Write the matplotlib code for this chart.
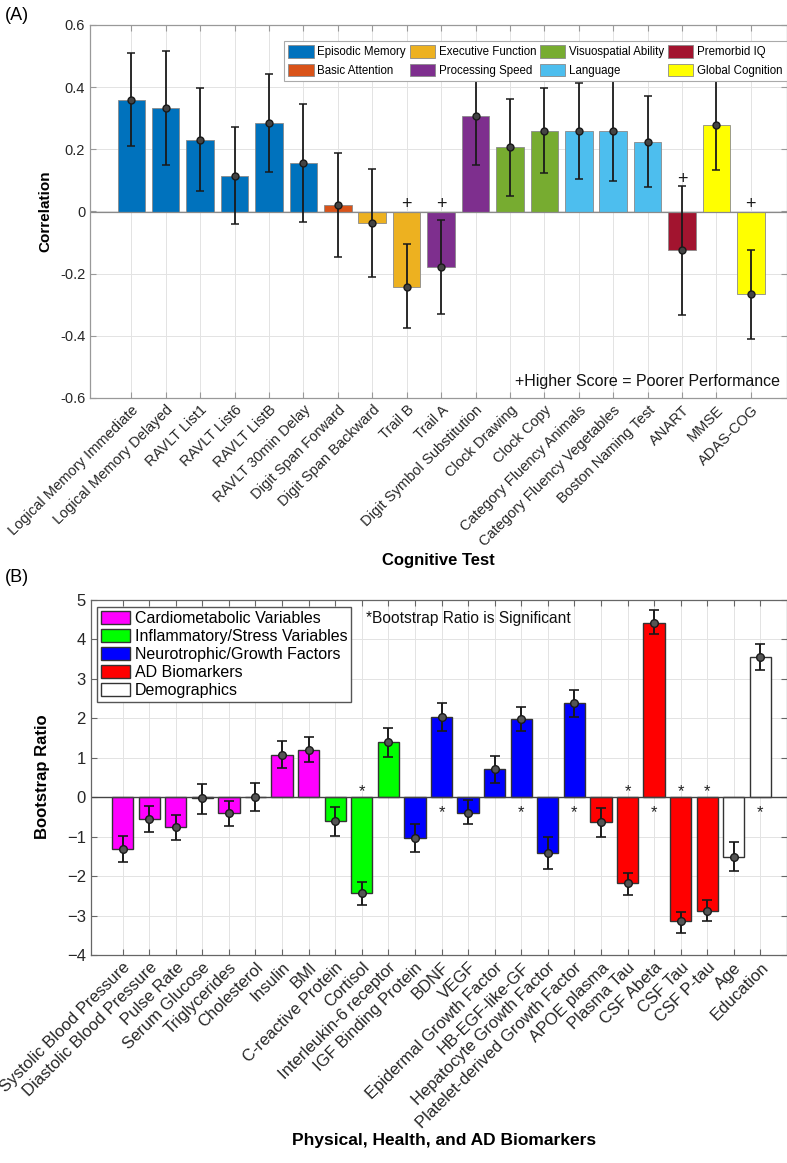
import numpy as np
import matplotlib
matplotlib.use("Agg")
import matplotlib.pyplot as plt
from matplotlib.patches import Patch

plt.rcParams['font.family'] = ['Liberation Sans', 'DejaVu Sans']

# ---- panel A: cognitive tests ----
tests = ['Logical Memory Immediate', 'Logical Memory Delayed', 'RAVLT List1', 'RAVLT List6',
         'RAVLT ListB', 'RAVLT 30min Delay', 'Digit Span Forward', 'Digit Span Backward',
         'Trail B', 'Trail A', 'Digit Symbol Substitution', 'Clock Drawing', 'Clock Copy',
         'Category Fluency Animals', 'Category Fluency Vegetables', 'Boston Naming Test',
         'ANART', 'MMSE', 'ADAS-COG']
corr = [0.360, 0.333, 0.231, 0.115, 0.284, 0.155, 0.020, -0.037, -0.242, -0.177,
        0.306, 0.206, 0.260, 0.258, 0.260, 0.225, -0.125, 0.278, -0.267]
corr_lo = [0.210, 0.150, 0.067, -0.041, 0.126, -0.035, -0.145, -0.211, -0.375, -0.329,
           0.151, 0.051, 0.123, 0.104, 0.097, 0.080, -0.332, 0.133, -0.409]
corr_hi = [0.510, 0.515, 0.396, 0.271, 0.442, 0.347, 0.187, 0.138, -0.106, -0.028,
           0.462, 0.362, 0.398, 0.412, 0.423, 0.371, 0.081, 0.426, -0.125]
domain = ['Episodic Memory'] * 6 + ['Basic Attention', 'Executive Function', 'Executive Function',
          'Processing Speed', 'Processing Speed', 'Visuospatial Ability', 'Visuospatial Ability',
          'Language', 'Language', 'Language', 'Premorbid IQ', 'Global Cognition', 'Global Cognition']
reversed_tests = ['Trail B', 'Trail A', 'ANART', 'ADAS-COG']

domain_colors = {
    'Episodic Memory': '#0072BD',
    'Basic Attention': '#D95319',
    'Executive Function': '#EDB120',
    'Processing Speed': '#7E2F8E',
    'Visuospatial Ability': '#77AC30',
    'Language': '#4DBEEE',
    'Premorbid IQ': '#A2142F',
    'Global Cognition': '#FFFF00',
}

# ---- panel B: biomarkers ----
markers = ['Systolic Blood Pressure', 'Diastolic Blood Pressure', 'Pulse Rate', 'Serum Glucose',
           'Triglycerides', 'Cholesterol', 'Insulin', 'BMI', 'C-reactive Protein', 'Cortisol',
           'Interleukin-6 receptor', 'IGF Binding Protein', 'BDNF', 'VEGF',
           'Epidermal Growth Factor', 'HB-EGF-like-GF', 'Hepatocyte Growth Factor',
           'Platelet-derived Growth Factor', 'APOE plasma', 'Plasma Tau', 'CSF Abeta',
           'CSF Tau', 'CSF P-tau', 'Age', 'Education']
ratio = [-1.31, -0.555, -0.765, -0.02, -0.40, 0.01, 1.076, 1.195, -0.605, -2.44, 1.40,
         -1.025, 2.04, -0.39, 0.72, 1.98, -1.41, 2.38, -0.64, -2.18, 4.42, -3.14, -2.89,
         -1.51, 3.56]
ratio_lo = [-1.65, -0.89, -1.09, -0.43, -0.72, -0.345, 0.73, 0.89, -0.975, -2.74, 1.03,
            -1.39, 1.69, -0.69, 0.37, 1.69, -1.82, 2.04, -1.00, -2.47, 4.14, -3.43, -3.15,
            -1.88, 3.23]
ratio_hi = [-0.98, -0.227, -0.45, 0.345, -0.10, 0.37, 1.42, 1.525, -0.25, -2.14, 1.76,
            -0.69, 2.40, -0.08, 1.05, 2.29, -1.02, 2.73, -0.27, -1.91, 4.74, -2.90, -2.61,
            -1.13, 3.88]
group = (['Cardiometabolic Variables'] * 8 + ['Inflammatory/Stress Variables'] * 3
         + ['Neurotrophic/Growth Factors'] * 7 + ['AD Biomarkers'] * 5 + ['Demographics'] * 2)
significant = ['Cortisol', 'BDNF', 'HB-EGF-like-GF', 'Platelet-derived Growth Factor',
               'Plasma Tau', 'CSF Abeta', 'CSF Tau', 'CSF P-tau', 'Education']

group_colors = {
    'Cardiometabolic Variables': '#FF00FF',
    'Inflammatory/Stress Variables': '#00FF00',
    'Neurotrophic/Growth Factors': '#0000FF',
    'AD Biomarkers': '#FF0000',
    'Demographics': '#FFFFFF',
}

fig = plt.figure(figsize=(7.87, 11.63), dpi=100)
W, H = 787, 1163


def style_axes(ax, spine_col, fs):
    ax.set_axisbelow(True)
    ax.grid(True, color='#e3e3e3', lw=0.7)
    ax.tick_params(direction='in', top=True, right=True, length=4, color=spine_col,
                   labelsize=fs, labelcolor='#262626')
    for s in ax.spines.values():
        s.set_color(spine_col)
        s.set_linewidth(0.9)


# ===== Panel A =====
axA = fig.add_axes([90 / W, 1 - 398 / H, 697 / W, 373 / H])
xa = np.arange(1, len(tests) + 1)
corr = np.array(corr)
err_a = [corr - np.array(corr_lo), np.array(corr_hi) - corr]
axA.bar(xa, corr, width=0.8, color=[domain_colors[d] for d in domain],
        edgecolor='#8a8a8a', linewidth=0.6, zorder=2)
axA.axhline(0, color='#8a8a8a', lw=0.9, zorder=2.5)
axA.errorbar(xa, corr, yerr=err_a, fmt='o', color='#1a1a1a', ms=5, mfc='#444444',
             mec='#1a1a1a', elinewidth=1.3, capsize=3, capthick=1.1, zorder=3)
for i, t in enumerate(tests):
    if t in reversed_tests:
        axA.text(xa[i], max(0, corr_hi[i]) - 0.004, '+', ha='center', va='bottom',
                 fontsize=13, color='#1a1a1a')
axA.set_xlim(-0.2, 20.05)
axA.set_ylim(-0.6, 0.6)
axA.set_yticks(np.arange(-0.6, 0.61, 0.2))
axA.set_yticklabels(['-0.6', '-0.4', '-0.2', '0', '0.2', '0.4', '0.6'])
axA.set_xticks(xa)
axA.set_xticklabels(tests, rotation=45, ha='right', rotation_mode='anchor')
style_axes(axA, '#999999', 10.5)
axA.text(0.99, 0.045, '+Higher Score = Poorer Performance', transform=axA.transAxes,
         ha='right', va='center', fontsize=11.5, color='#111111')

handles_a = [Patch(facecolor=c, edgecolor='#8a8a8a', lw=0.6, label=d)
             for d, c in domain_colors.items()]
order = ['Episodic Memory', 'Basic Attention', 'Executive Function', 'Processing Speed',
         'Visuospatial Ability', 'Language', 'Premorbid IQ', 'Global Cognition']
handles_a = sorted(handles_a, key=lambda h: order.index(h.get_label()))
legA = axA.legend(handles=handles_a, ncol=4, loc='upper right', bbox_to_anchor=(1.0, 0.958),
                  fontsize=8.3, frameon=True, fancybox=False, edgecolor='#aaaaaa',
                  framealpha=1, borderaxespad=0, handlelength=2.2, handleheight=1.3,
                  handletextpad=0.3, columnspacing=0.35, labelspacing=0.45,
                  borderpad=0.4)
legA.get_frame().set_linewidth(0.8)

fig.text(45 / W, 1 - 211 / H, 'Correlation', rotation=90, ha='center', va='center',
         fontsize=11, fontweight='bold')
fig.text(438 / W, 1 - 561 / H, 'Cognitive Test', ha='center', va='center',
         fontsize=12, fontweight='bold')
fig.text(5 / W, 1 - 15 / H, '(A)', ha='left', va='center', fontsize=13)

# ===== Panel B =====
axB = fig.add_axes([90.7 / W, 1 - 955 / H, 696.3 / W, 355 / H])
xb = np.arange(1, len(markers) + 1)
ratio = np.array(ratio)
err_b = [ratio - np.array(ratio_lo), np.array(ratio_hi) - ratio]
axB.bar(xb, ratio, width=0.8, color=[group_colors[g] for g in group],
        edgecolor='#333333', linewidth=1.0, zorder=2)
axB.axhline(0, color='#444444', lw=1.0, zorder=2.5)
axB.errorbar(xb, ratio, yerr=err_b, fmt='o', color='#1a1a1a', ms=5.5, mfc='#555555',
             mec='#1a1a1a', elinewidth=1.4, capsize=3.5, capthick=1.2, zorder=3)
for i, m in enumerate(markers):
    if m in significant:
        ys = -0.05 if ratio[i] < 0 else -0.58
        axB.text(xb[i], ys, '*', ha='center', va='bottom', fontsize=12, color='#222222')
axB.set_xlim(-0.2, 26)
axB.set_ylim(-4, 5)
axB.set_yticks(np.arange(-4, 6, 1))
axB.set_xticks(xb)
axB.set_xticklabels(markers, rotation=45, ha='right', rotation_mode='anchor')
style_axes(axB, '#666666', 12)
axB.text(0.395, 0.948, '*Bootstrap Ratio is Significant', transform=axB.transAxes,
         ha='left', va='center', fontsize=11.2, color='#111111')

handles_b = [Patch(facecolor=c, edgecolor='#333333', lw=1.0, label=g)
             for g, c in group_colors.items()]
legB = axB.legend(handles=handles_b, loc='upper left', bbox_to_anchor=(0.009, 0.98),
                  fontsize=11.5, frameon=True, fancybox=False, edgecolor='#555555',
                  framealpha=1, borderaxespad=0, handlelength=1.8, handleheight=0.9,
                  handletextpad=0.3, labelspacing=0.18, borderpad=0.25)
legB.get_frame().set_linewidth(1.0)

fig.text(42 / W, 1 - 777 / H, 'Bootstrap Ratio', rotation=90, ha='center', va='center',
         fontsize=12, fontweight='bold')
fig.text(444 / W, 1 - 1141 / H, 'Physical, Health, and AD Biomarkers', ha='center',
         va='center', fontsize=12.5, fontweight='bold')
fig.text(5 / W, 1 - 577 / H, '(B)', ha='left', va='center', fontsize=13)

fig.savefig('out.png', dpi=100)
